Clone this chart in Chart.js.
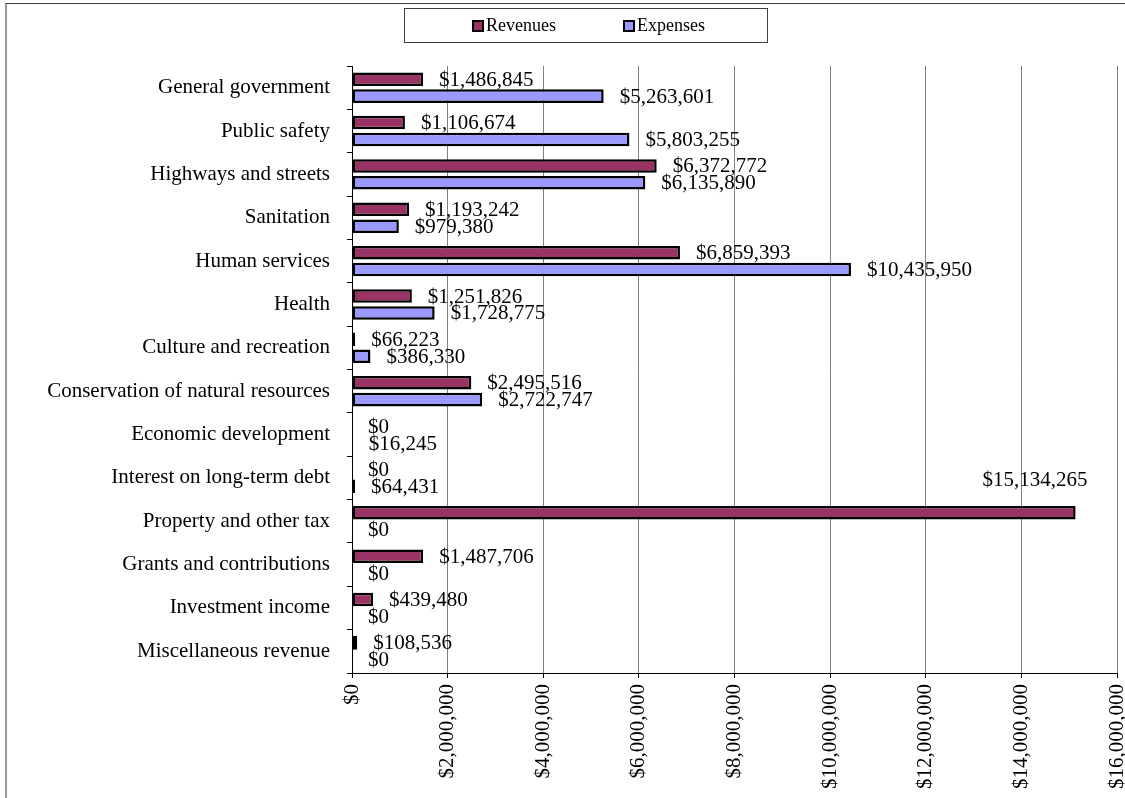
<!DOCTYPE html>
<html>
<head>
<meta charset="utf-8">
<script src="https://cdn.jsdelivr.net/npm/chart.js@4.4.1/dist/chart.umd.min.js"></script>
<style>
  html, body { margin: 0; padding: 0; background: #fff; }
  #wrap { position: relative; width: 1125px; height: 798px; }
  #frame { position: absolute; left: 5px; top: 3px; right: 0; bottom: 0;
           border-top: 1px solid #404040; border-left: 2px solid #9a9a9a; }
  canvas { position: absolute; left: 0; top: 0; }
</style>
</head>
<body>
<div id="wrap">
  <div id="frame"></div>
  <canvas id="chart" width="1125" height="798"></canvas>
</div>
<script>
// Data
const categories = [
  "General government", "Public safety", "Highways and streets", "Sanitation",
  "Human services", "Health", "Culture and recreation",
  "Conservation of natural resources", "Economic development",
  "Interest on long-term debt", "Property and other tax",
  "Grants and contributions", "Investment income", "Miscellaneous revenue"
];
const revenues = [1486845, 1106674, 6372772, 1193242, 6859393, 1251826, 66223,
  2495516, 0, 0, 15134265, 1487706, 439480, 108536];
const expenses = [5263601, 5803255, 6135890, 979380, 10435950, 1728775, 386330,
  2722747, 16245, 64431, 0, 0, 0, 0];
const xTicks = [0, 2000000, 4000000, 6000000, 8000000, 10000000, 12000000, 14000000, 16000000];

const FONT = "'Liberation Serif', 'Times New Roman', serif";
const money = v => "$" + Number(v).toLocaleString("en-US");

// value labels next to bars
const valueLabels = {
  id: "valueLabels",
  afterDatasetsDraw(chart) {
    const ctx = chart.ctx;
    const area = chart.chartArea;
    ctx.save();
    ctx.font = "21px " + FONT;
    ctx.fillStyle = "#000";
    ctx.textBaseline = "middle";
    chart.data.datasets.forEach((ds, i) => {
      chart.getDatasetMeta(i).data.forEach((bar, j) => {
        const txt = money(ds.data[j]);
        const w = ctx.measureText(txt).width;
        if (bar.x + 16 + w > area.right) {
          ctx.textAlign = "right";
          ctx.fillText(txt, bar.x + 12, bar.y - 32);
        } else {
          ctx.textAlign = "left";
          ctx.fillText(txt, bar.x + 16, bar.y + 1);
        }
      });
    });
    ctx.restore();
  }
};

// boxed legend at the top
const boxLegend = {
  id: "boxLegend",
  afterDraw(chart) {
    const ctx = chart.ctx;
    ctx.save();
    ctx.strokeStyle = "#404040";
    ctx.lineWidth = 1;
    ctx.strokeRect(404.5, 8.5, 363, 34);
    ctx.font = "18px " + FONT;
    ctx.textBaseline = "middle";
    ctx.textAlign = "left";
    const xs = [473, 624];
    chart.data.datasets.forEach((ds, i) => {
      ctx.fillStyle = ds.backgroundColor;
      ctx.fillRect(xs[i], 21, 10, 10);
      ctx.strokeStyle = "#000";
      ctx.lineWidth = 2;
      ctx.strokeRect(xs[i], 21, 10, 10);
      ctx.fillStyle = "#000";
      ctx.fillText(ds.label, xs[i] + 13, 26);
    });
    ctx.restore();
  }
};

new Chart(document.getElementById("chart"), {
  type: "bar",
  data: {
    labels: categories,
    datasets: [
      { label: "Revenues", data: revenues, backgroundColor: "#993366",
        borderColor: "#000", borderWidth: 2.5, borderSkipped: false },
      { label: "Expenses", data: expenses, backgroundColor: "#9999ff",
        borderColor: "#000", borderWidth: 2.5, borderSkipped: false }
    ]
  },
  options: {
    indexAxis: "y",
    responsive: false,
    animation: false,
    categoryPercentage: 0.78,
    barPercentage: 0.8,
    layout: { padding: { top: 66, left: 6, right: 8, bottom: 0 } },
    plugins: { legend: { display: false }, tooltip: { enabled: false } },
    scales: {
      x: {
        min: 0, max: 16000000,
        afterBuildTicks: s => { s.ticks = xTicks.map(v => ({ value: v })); },
        afterFit: s => { s.height = 125; s.paddingRight = 0; s.paddingLeft = 0; },
        grid: { color: "#808080", tickColor: "#000", tickLength: 5 },
        border: { color: "#000", width: 1 },
        ticks: {
          autoSkip: false, minRotation: 90, maxRotation: 90, padding: 6,
          color: "#000", font: { family: FONT, size: 21 },
          callback: v => money(v)
        }
      },
      y: {
        afterFit: s => { s.width = 346; },
        grid: { drawOnChartArea: false, offset: true, color: "#000", tickLength: 5 },
        border: { color: "#000", width: 1 },
        ticks: { padding: 17, color: "#000", font: { family: FONT, size: 21 } }
      }
    }
  },
  plugins: [valueLabels, boxLegend]
});
</script>
</body>
</html>
